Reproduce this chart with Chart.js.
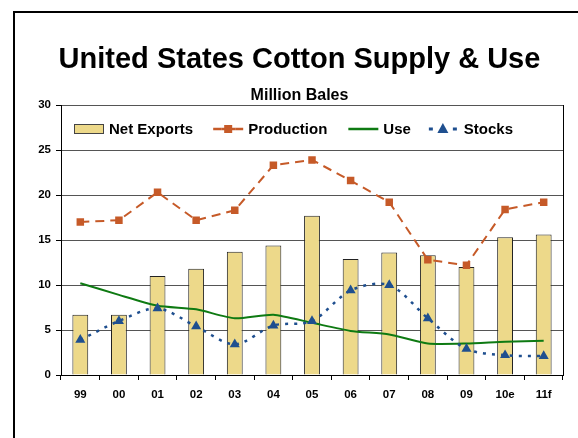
<!DOCTYPE html>
<html>
<head>
<meta charset="utf-8">
<script src="https://cdn.jsdelivr.net/npm/chart.js@4"></script>
<style>
  html, body { margin: 0; padding: 0; background: #fff; }
  #wrap { position: relative; width: 578px; height: 438px; overflow: hidden; }
  #frame { position: absolute; left: 13px; top: 11px; width: 620px; height: 460px;
           border-left: 2px solid #000; border-top: 2px solid #000; }
  canvas { position: absolute; left: 0; top: 0; }
</style>
</head>
<body>
<div id="wrap">
  <div id="frame"></div>
  <canvas id="chart" width="578" height="438"></canvas>
</div>
<script>
// chart values
const years = ['99', '00', '01', '02', '03', '04', '05', '06', '07', '08', '09', '10e', '11f'];
const netExports = [6.7, 6.7, 11.0, 11.8, 13.7, 14.4, 17.7, 12.9, 13.6, 13.3, 12.0, 15.3, 15.6];
const production = [17.0, 17.2, 20.3, 17.2, 18.3, 23.3, 23.9, 21.6, 19.2, 12.8, 12.2, 18.4, 19.2];
const use = [10.2, 8.9, 7.7, 7.3, 6.3, 6.7, 5.8, 4.9, 4.5, 3.5, 3.5, 3.7, 3.8];
const stocks = [3.9, 6.0, 7.4, 5.4, 3.4, 5.5, 6.0, 9.4, 10.0, 6.3, 2.9, 2.2, 2.1];
const yTicks = [0, 5, 10, 15, 20, 25, 30];

const FONT = '"Liberation Sans", Arial, sans-serif';
const C_BAR = '#EDD98A', C_PROD = '#C65A28', C_USE = '#0E7A12', C_STK = '#1F4F8F';

/* ---------- legend drawn inside the plot, like the original ---------- */
const insideLegend = {
  id: 'insideLegend',
  afterDraw(chart) {
    const { ctx, chartArea } = chart;
    const cy = chartArea.top + 24;
    let x = chartArea.left + 13;
    ctx.save();
    ctx.font = 'bold 15px ' + FONT;
    ctx.textBaseline = 'middle';
    ctx.fillStyle = '#000';

    const items = [
      { text: 'Net Exports', gap: 20, draw: (x0) => {
          ctx.fillStyle = C_BAR; ctx.fillRect(x0, cy - 5, 30, 10);
          ctx.strokeStyle = '#444'; ctx.lineWidth = 1; ctx.strokeRect(x0 + 0.5, cy - 4.5, 29, 9);
        } },
      { text: 'Production', gap: 21, draw: (x0) => {
          ctx.strokeStyle = C_PROD; ctx.lineWidth = 2.5;
          ctx.beginPath(); ctx.moveTo(x0, cy); ctx.lineTo(x0 + 8, cy); ctx.moveTo(x0 + 22, cy); ctx.lineTo(x0 + 30, cy); ctx.stroke();
          ctx.beginPath(); ctx.moveTo(x0 + 8, cy); ctx.lineTo(x0 + 22, cy); ctx.stroke();
          ctx.fillStyle = C_PROD; ctx.fillRect(x0 + 11, cy - 4, 8, 8);
        } },
      { text: 'Use', gap: 18, draw: (x0) => {
          ctx.strokeStyle = C_USE; ctx.lineWidth = 2.5;
          ctx.beginPath(); ctx.moveTo(x0, cy); ctx.lineTo(x0 + 30, cy); ctx.stroke();
        } },
      { text: 'Stocks', gap: 19, draw: (x0) => {
          ctx.fillStyle = C_STK;
          ctx.fillRect(x0, cy - 1.5, 4, 3); ctx.fillRect(x0 + 24, cy - 1.5, 4, 3);
          ctx.beginPath(); ctx.moveTo(x0 + 14, cy - 6); ctx.lineTo(x0 + 19.5, cy + 4); ctx.lineTo(x0 + 8.5, cy + 4); ctx.closePath(); ctx.fill();
        } }
    ];

    items.forEach(it => {
      it.draw(x);
      ctx.fillStyle = '#000';
      ctx.fillText(it.text, x + 35, cy + 0.5);
      x += 35 + ctx.measureText(it.text).width + it.gap;
    });

    // right-hand border of the plot
    ctx.strokeStyle = '#000'; ctx.lineWidth = 1;
    ctx.beginPath(); ctx.moveTo(chartArea.right + 0.5, chartArea.top); ctx.lineTo(chartArea.right + 0.5, chartArea.bottom); ctx.stroke();
    ctx.restore();
  }
};

new Chart(document.getElementById('chart'), {
  type: 'bar',
  data: {
    labels: years,
    datasets: [
      { type: 'line', label: 'Production', data: production, order: 1,
        borderColor: C_PROD, backgroundColor: C_PROD, borderWidth: 2, borderDash: [9, 6],
        pointStyle: 'rect', pointRadius: 5.3, pointBorderWidth: 0, tension: 0 },
      { type: 'line', label: 'Use', data: use, order: 2,
        borderColor: C_USE, borderWidth: 2, pointRadius: 0, tension: 0.2 },
      { type: 'line', label: 'Stocks', data: stocks, order: 0,
        borderColor: C_STK, backgroundColor: C_STK, borderWidth: 2.5, borderDash: [3, 6],
        pointStyle: 'triangle', pointRadius: 5.8, pointBorderWidth: 0, tension: 0.3 },
      { type: 'bar', label: 'Net Exports', data: netExports, order: 5,
        backgroundColor: C_BAR, borderColor: '#222', borderWidth: 1,
        categoryPercentage: 1, barPercentage: 0.41 }
    ]
  },
  options: {
    responsive: false,
    animation: false,
    layout: { padding: { top: 0, left: 36, right: 15, bottom: 33 } },
    plugins: {
      legend: { display: false },
      tooltip: { enabled: false },
      title: { display: true, text: 'United States Cotton Supply & Use', color: '#000',
               font: { family: FONT, size: 29, weight: 'bold' }, padding: { top: 43, bottom: 5 } },
      subtitle: { display: true, text: 'Million Bales', color: '#000',
                  font: { family: FONT, size: 16, weight: 'bold' }, padding: { top: 3, bottom: 0 } }
    },
    scales: {
      x: {
        afterFit: s => { s.height = 30; },
        border: { color: '#000', width: 1 },
        grid: { offset: true, drawOnChartArea: false, drawTicks: true, tickLength: 5, color: '#000' },
        ticks: { color: '#000', padding: 8, font: { family: FONT, size: 11.5, weight: 'bold' } }
      },
      y: {
        min: 0, max: 30,
        afterFit: s => { s.width = 25; },
        afterBuildTicks: s => { s.ticks = yTicks.map(v => ({ value: v })); },
        border: { color: '#000', width: 1 },
        grid: { color: '#555', lineWidth: 1, tickLength: 5, tickColor: '#000' },
        ticks: { color: '#000', padding: 5, font: { family: FONT, size: 11.5, weight: 'bold' } }
      }
    }
  },
  plugins: [insideLegend]
});
</script>
</body>
</html>
